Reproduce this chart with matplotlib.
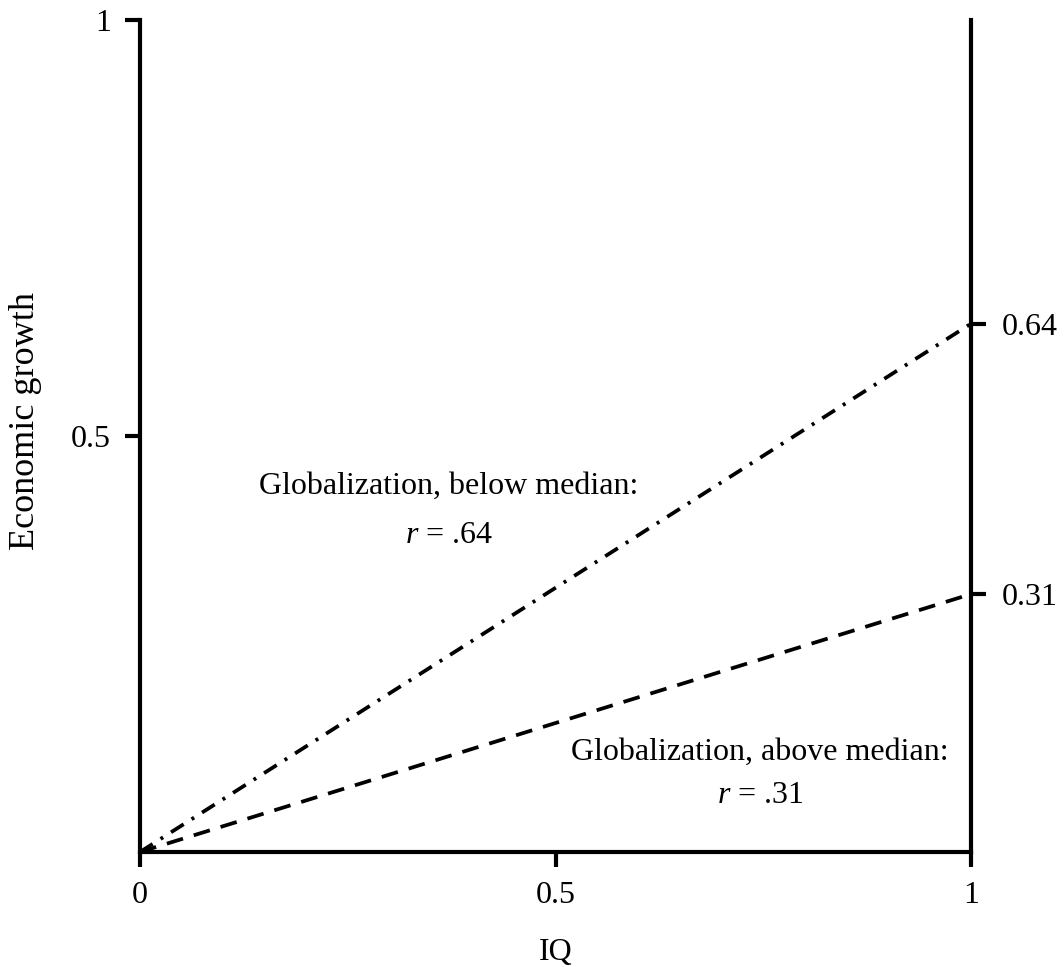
import matplotlib
matplotlib.use("Agg")
import matplotlib.pyplot as plt

plt.rcParams['font.family'] = ['Liberation Serif', 'DejaVu Serif']
plt.rcParams['mathtext.fontset'] = 'custom'
plt.rcParams['mathtext.rm'] = 'Liberation Serif'
plt.rcParams['mathtext.it'] = 'Liberation Serif:italic'

# Data
iq = [0, 1]
growth_below = [0, 0.635]   # globalization below median, r = .64
growth_above = [0, 0.31]    # globalization above median, r = .31
x_ticks = [0, 0.5, 1]
x_tick_labels = ['0', '0.5', '1']
y_ticks = [0.5, 1]
y_tick_labels = ['0.5', '1']
right_ticks = [0.31, 0.635]
right_tick_labels = ['0.31', '0.64']

fs = 23

fig = plt.figure(figsize=(10.64, 9.67), dpi=100)
ax = fig.add_axes([140 / 1064, 1 - 852 / 967, 831 / 1064, 832 / 967])

ax.plot(iq, growth_below, color='black', lw=2.7, dashes=(4, 2.5, 0.8, 2.5),
        dash_capstyle='butt')
ax.plot(iq, growth_above, color='black', lw=2.7, dashes=(4.5, 3),
        dash_capstyle='butt')

ax.set_xlim(0, 1)
ax.set_ylim(0, 1)

for s in ['left', 'bottom', 'right']:
    ax.spines[s].set_linewidth(3)
ax.spines['top'].set_visible(False)

ax.set_xticks(x_ticks)
ax.set_xticklabels(x_tick_labels)
ax.set_yticks(y_ticks)
ax.set_yticklabels(y_tick_labels)
ax.tick_params(axis='both', direction='out', length=11, width=3, pad=10,
               labelsize=fs)

ax2 = ax.twinx()
ax2.set_ylim(0, 1)
ax2.set_yticks(right_ticks)
ax2.set_yticklabels(right_tick_labels)
ax2.tick_params(axis='y', direction='out', length=11, width=3, pad=11,
                labelsize=fs)
for s in ax2.spines.values():
    s.set_visible(False)

ax.set_xlabel('IQ', fontsize=fs, labelpad=20)
ax.set_ylabel('Economic growth', fontsize=26)
ax.yaxis.set_label_coords(-0.118, 0.518)

ax.text(0.372, 0.439, 'Globalization, below median:', fontsize=fs,
        ha='center', va='center')
ax.text(0.372, 0.381, '$r$ = .64', fontsize=fs, ha='center', va='center')
ax.text(0.746, 0.120, 'Globalization, above median:', fontsize=fs,
        ha='center', va='center')
ax.text(0.746, 0.0685, '$r$ = .31', fontsize=fs, ha='center', va='center')

fig.savefig('out.png', dpi=100)
